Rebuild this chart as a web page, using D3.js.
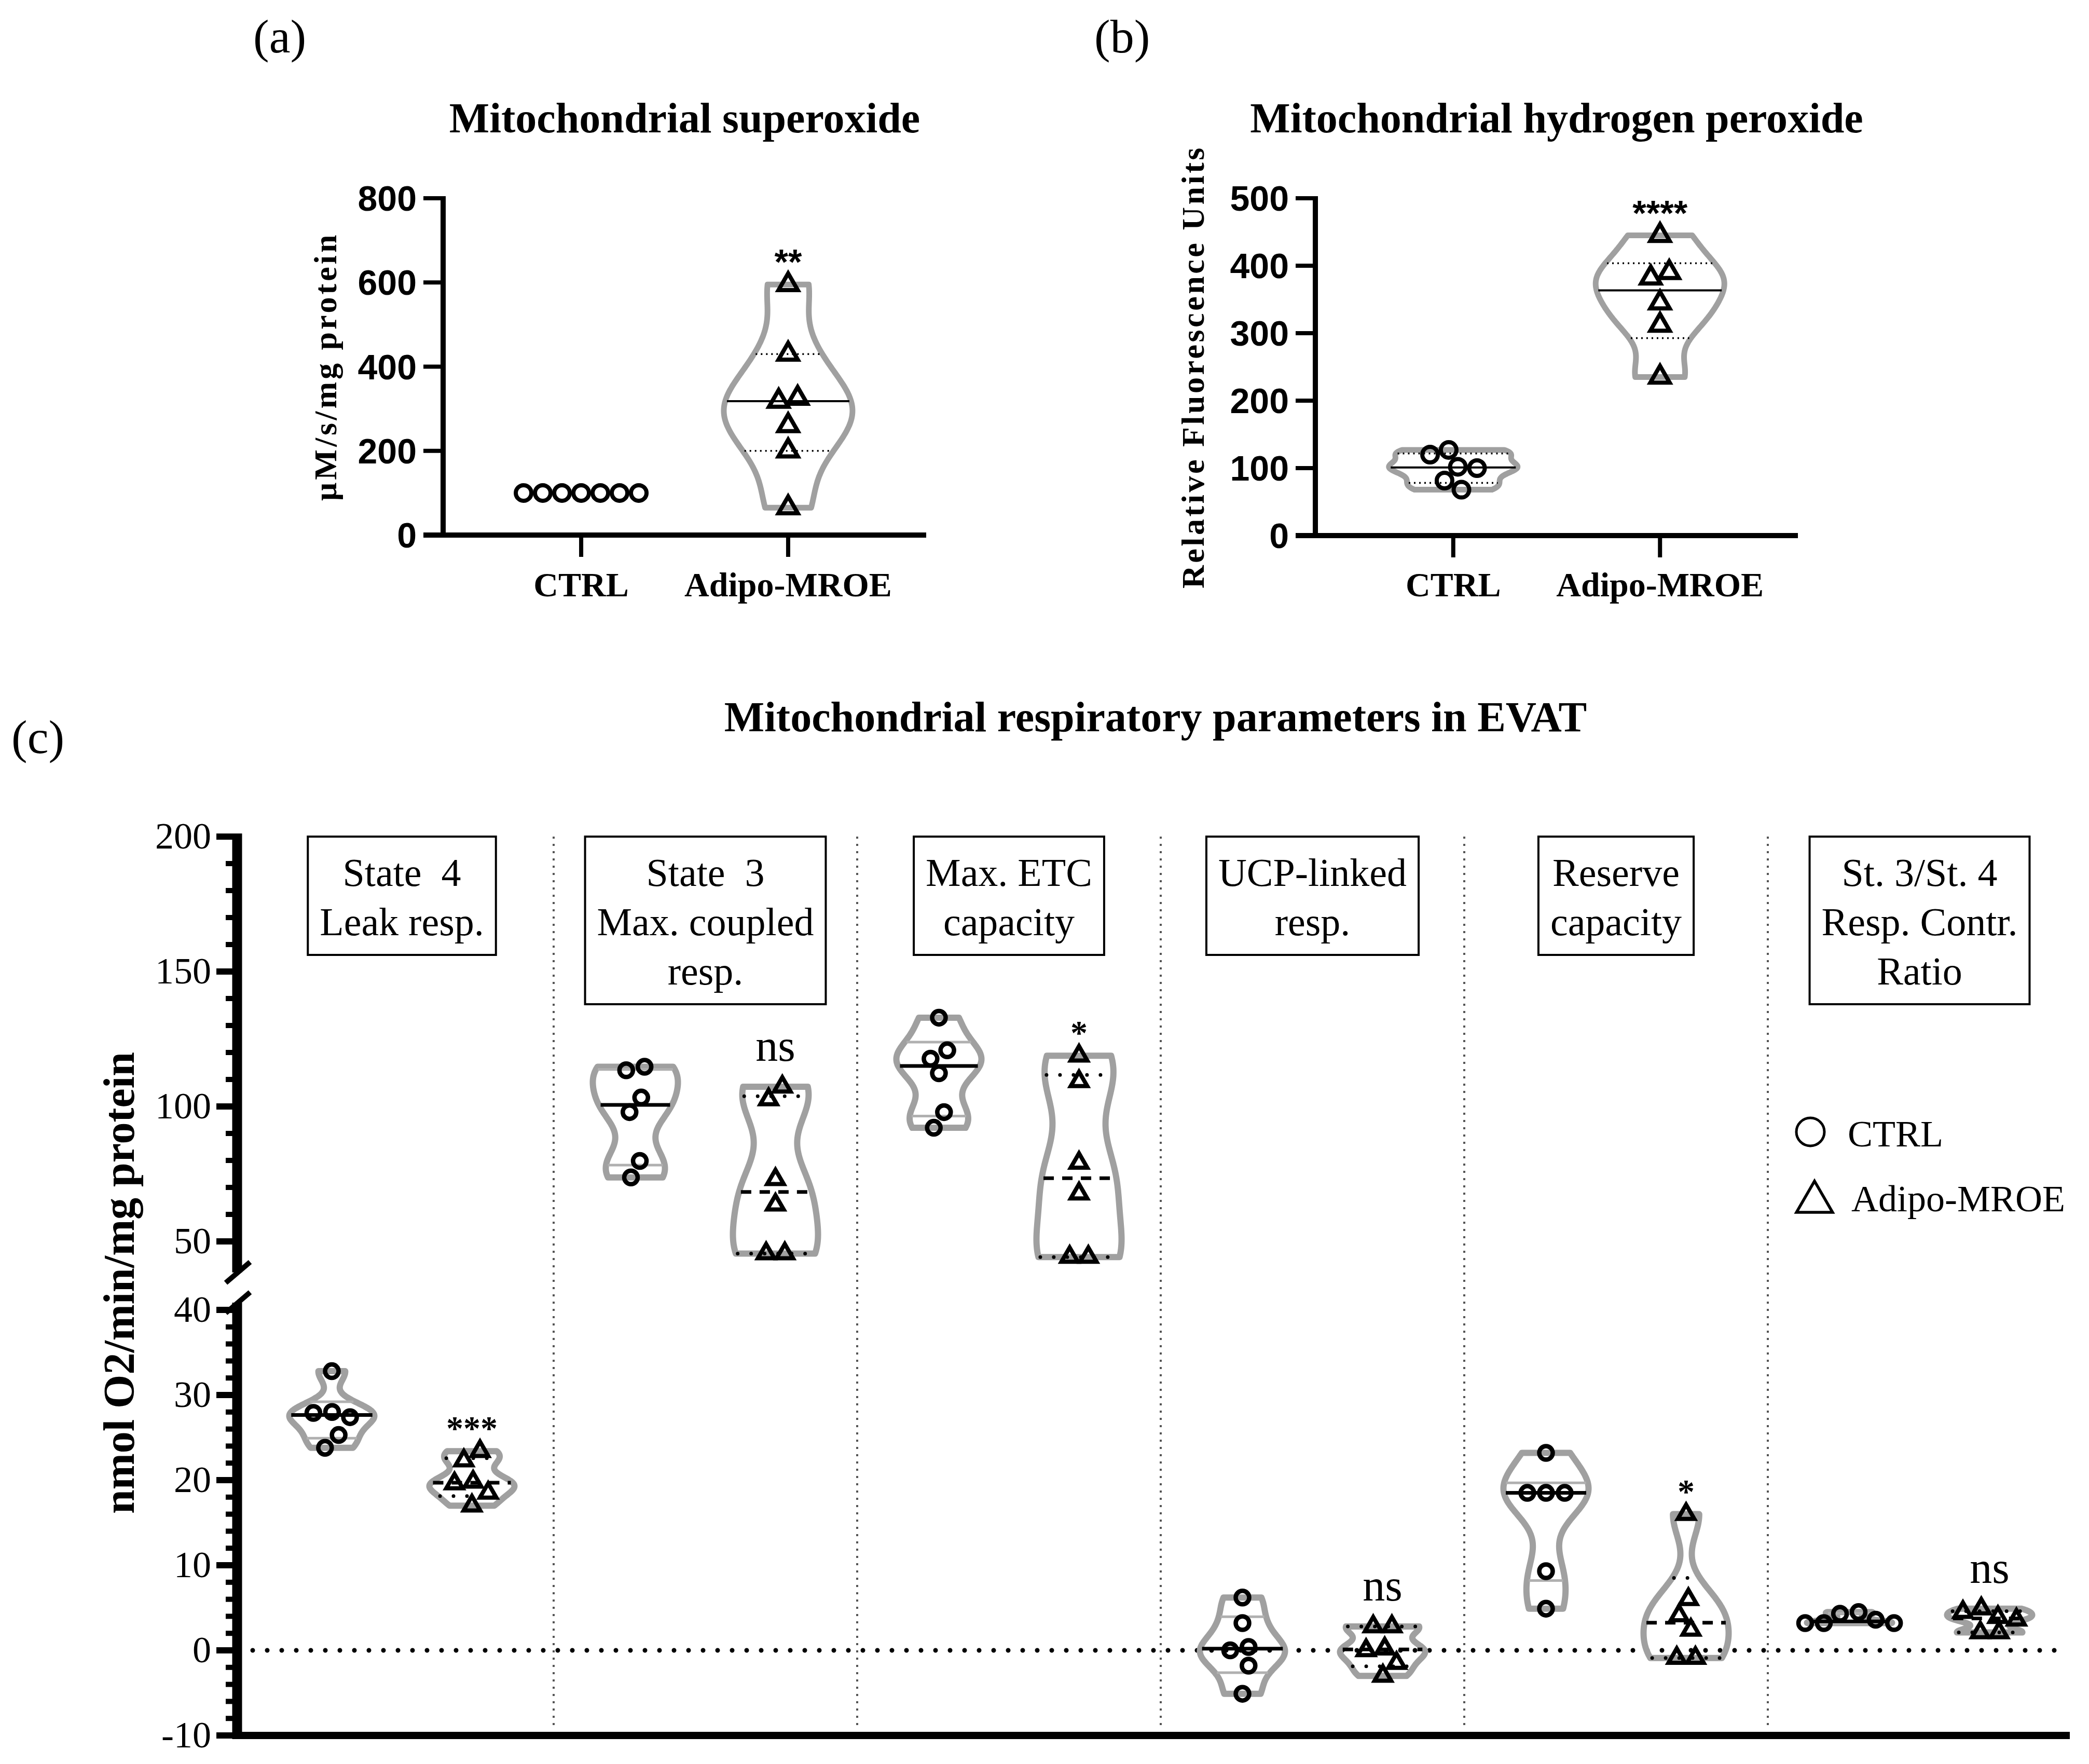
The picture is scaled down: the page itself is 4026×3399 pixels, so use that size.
<!DOCTYPE html>
<html><head><meta charset="utf-8">
<script src="https://cdn.jsdelivr.net/npm/d3@7"></script>
<style>body{margin:0;background:#fff} svg{display:block}</style>
</head><body>
<svg id="chart" width="4026" height="3399" xmlns="http://www.w3.org/2000/svg"></svg>
<script>
// ---------------- DATA ----------------
const groupsAB = ["CTRL", "Adipo-MROE"];
const superoxideCTRL = [100, 100, 100, 100, 100, 100, 100];
const superoxideMROE = [595, 430, 325, 318, 260, 200, 65];
const peroxideCTRL = [127, 120, 102, 100, 81.5, 68];
const peroxideMROE = [445, 390, 382, 345, 312, 235];
const ticksA = [0, 200, 400, 600, 800];
const ticksB = [0, 100, 200, 300, 400, 500];
const signifA = "**";
const signifB = "****";

const paramLabels = [
  ["State\u00A0 4", "Leak resp."],
  ["State\u00A0 3", "Max. coupled", "resp."],
  ["Max. ETC", "capacity"],
  ["UCP-linked", "resp."],
  ["Reserve", "capacity"],
  ["St. 3/St. 4", "Resp. Contr.", "Ratio"]
];
const ctrlValues = [
  [32.8, 28.0, 27.9, 27.4, 25.3, 23.8],
  [114.7, 113.4, 103.3, 97.9, 79.8, 73.7],
  [132.9, 120.8, 117.7, 112.3, 97.9, 92.1],
  [6.2, 3.2, 0.4, 0.0, -1.8, -5.1],
  [23.2, 18.5, 18.5, 18.5, 9.3, 4.9],
  [4.5, 4.3, 3.6, 3.2, 3.2, 3.2]
];
const mroeValues = [
  [23.4, 22.3, 19.8, 19.6, 18.5, 17.0],
  [107.3, 102.6, 73.0, 63.6, 45.5, 45.5],
  [118.8, 109.3, 79.1, 67.7, 44.2, 44.2],
  [2.8, 2.8, 0.2, 0.0, -1.5, -3.0],
  [16.0, 6.0, 4.1, 2.4, -0.9, -0.9],
  [4.9, 4.5, 3.9, 3.6, 2.1, 2.1]
];
const paramSegment = ["lower", "upper", "upper", "lower", "lower", "lower"];
const signifC = ["***", "ns", "*", "ns", "*", "ns"];
const upperMajor = [50, 100, 150, 200];
const lowerMajor = [-10, 0, 10, 20, 30, 40];
const legendLabels = ["CTRL", "Adipo-MROE"];

// ---------------- SETUP ----------------
const svg = d3.select("#chart");
const SERIF = "'Liberation Serif','Times New Roman',serif";
const SANS = "'Liberation Sans',Arial,sans-serif";
const VGRAY = "#a0a0a0";

function quantileP(vals, p) {
  const s = vals.slice().sort(d3.ascending), n = s.length;
  const pos = p * (n + 1);
  if (pos <= 1) return s[0];
  if (pos >= n) return s[n - 1];
  const lo = Math.floor(pos);
  return s[lo - 1] + (pos - lo) * (s[lo] - s[lo - 1]);
}
function kdeBandwidth(vals) {
  const sd = d3.deviation(vals) || 0;
  const iqr = quantileP(vals, 0.75) - quantileP(vals, 0.25);
  let s = Math.min(sd, iqr / 1.34);
  if (!(s > 0)) s = sd;
  return 0.63 * s * Math.pow(vals.length, -0.2);
}
function density(vals, h, v) {
  return d3.sum(vals, x => Math.exp(-0.5 * ((v - x) / h) ** 2));
}

function swarmOffsets(vals, yScale, d) {
  const pts = vals.map((v, i) => ({ v, i, y: yScale(v), x: 0 })).sort((a, b) => a.y - b.y);
  const placed = [];
  for (const p of pts) {
    const iv = [];
    for (const q of placed) {
      const dy = Math.abs(q.y - p.y);
      if (dy < d) { const w = Math.sqrt(d * d - dy * dy); iv.push([q.x - w, q.x + w]); }
    }
    const cands = [0];
    iv.forEach(a => cands.push(a[0], a[1]));
    cands.sort((a, b) => (Math.abs(a) - Math.abs(b)) || (a - b));
    p.x = cands.find(c => iv.every(a => c <= a[0] + 1e-6 || c >= a[1] - 1e-6));
    placed.push(p);
  }
  const parent = pts.map((_, k) => k);
  const find = k => parent[k] === k ? k : (parent[k] = find(parent[k]));
  for (let a = 0; a < pts.length; a++)
    for (let b = a + 1; b < pts.length; b++)
      if (Math.hypot(pts[a].x - pts[b].x, pts[a].y - pts[b].y) < d + 0.5) parent[find(a)] = find(b);
  const groups = d3.group(pts.map((p, k) => ({ p, r: find(k) })), o => o.r);
  for (const [, arr] of groups) { const m = d3.mean(arr, o => o.p.x); arr.forEach(o => o.p.x -= m); }
  const out = [];
  pts.forEach(p => out[p.i] = p.x);
  return out;
}

function drawViolin(g, vals, y, cx, o) {
  const lo = d3.min(vals), hi = d3.max(vals);
  if (hi - lo <= 0) return;
  const h = kdeBandwidth(vals);
  const steps = d3.range(0, 141).map(i => lo + (hi - lo) * i / 140);
  const dmax = d3.max(steps, v => density(vals, h, v));
  const w = v => o.halfW * density(vals, h, v) / dmax;
  const area = d3.area().y(d => y(d)).x0(d => cx - w(d)).x1(d => cx + w(d)).curve(d3.curveBasis);
  g.append("path").attr("d", area(steps)).attr("fill", "none")
    .attr("stroke", VGRAY).attr("stroke-width", o.vWidth).attr("stroke-linejoin", "round");
  const line = (v, st) => {
    const ww = w(v) - o.vWidth * 0.3;
    g.append("line").attr("x1", cx - ww).attr("x2", cx + ww).attr("y1", y(v)).attr("y2", y(v))
      .attr("stroke", st.color).attr("stroke-width", st.width)
      .attr("stroke-dasharray", st.dash || null).attr("stroke-linecap", st.cap || "butt");
  };
  line(quantileP(vals, 0.25), o.quart);
  line(quantileP(vals, 0.75), o.quart);
  line(quantileP(vals, 0.5), o.median);
}

function drawMarkers(g, vals, y, cx, type, r, triArea, sw, d) {
  const off = swarmOffsets(vals, y, d);
  vals.forEach((v, i) => {
    if (type === "circle") {
      g.append("circle").attr("cx", cx + off[i]).attr("cy", y(v)).attr("r", r)
        .attr("fill", "none").attr("stroke", "#000").attr("stroke-width", sw);
    } else {
      g.append("path").attr("d", d3.symbol(d3.symbolTriangle, triArea)())
        .attr("transform", `translate(${cx + off[i]},${y(v)})`)
        .attr("fill", "none").attr("stroke", "#000").attr("stroke-width", sw).attr("stroke-linejoin", "miter");
    }
  });
}

// ---------------- PANELS (a) & (b) ----------------
function smallPanel(cfg) {
  const g = svg.append("g");
  const x = d3.scalePoint().domain(groupsAB).range([cfg.x0, cfg.x1]).padding(0.667);
  const y = d3.scaleLinear().domain([0, cfg.ticks[cfg.ticks.length - 1]]).range([cfg.yBottom, cfg.yTop]);
  g.append("text").attr("x", cfg.letterX).attr("y", 101).attr("font-family", SERIF).attr("font-size", 92).text(cfg.letter);
  g.append("text").attr("x", (cfg.x0 + cfg.x1) / 2).attr("y", 255).attr("text-anchor", "middle")
    .attr("font-family", SERIF).attr("font-weight", "bold").attr("font-size", 82).text(cfg.title);
  g.append("text").attr("transform", `translate(${cfg.yTitleX},${(cfg.yTop + cfg.yBottom) / 2})rotate(-90)`)
    .attr("text-anchor", "middle").attr("font-family", SERIF).attr("font-weight", "bold")
    .attr("font-size", 62).attr("letter-spacing", cfg.ls).text(cfg.yTitle);
  g.append("line").attr("x1", cfg.x0).attr("x2", cfg.x0).attr("y1", y.range()[1] - 4).attr("y2", y(0) + 5)
    .attr("stroke", "#000").attr("stroke-width", 10);
  g.append("line").attr("x1", cfg.x0 - 38).attr("x2", cfg.x1).attr("y1", y(0)).attr("y2", y(0))
    .attr("stroke", "#000").attr("stroke-width", 10);
  g.selectAll(null).data(cfg.ticks).join("line")
    .attr("x1", cfg.x0 - 38).attr("x2", cfg.x0).attr("y1", d => y(d)).attr("y2", d => y(d))
    .attr("stroke", "#000").attr("stroke-width", 8);
  g.selectAll(null).data(cfg.ticks).join("text")
    .attr("x", cfg.x0 - 51).attr("y", d => y(d) + 24).attr("text-anchor", "end")
    .attr("font-family", SANS).attr("font-weight", "bold").attr("font-size", 68).text(d => d);
  g.selectAll(null).data(groupsAB).join("line")
    .attr("x1", d => x(d)).attr("x2", d => x(d)).attr("y1", y(0)).attr("y2", y(0) + 42)
    .attr("stroke", "#000").attr("stroke-width", 8);
  g.selectAll(null).data(groupsAB).join("text")
    .attr("x", d => x(d)).attr("y", 1149).attr("text-anchor", "middle")
    .attr("font-family", SERIF).attr("font-weight", "bold").attr("font-size", 66).text(d => d);
  const vopts = {
    halfW: 124, vWidth: 11,
    median: { color: "#000", width: 4 },
    quart: { color: "#000", width: 3.5, dash: "3 7" }
  };
  drawViolin(g, cfg.ctrl, y, x(groupsAB[0]), vopts);
  drawViolin(g, cfg.mroe, y, x(groupsAB[1]), vopts);
  drawMarkers(g, cfg.ctrl, y, x(groupsAB[0]), "circle", 15, 0, 8, 37);
  drawMarkers(g, cfg.mroe, y, x(groupsAB[1]), "triangle", 15, 600, 8, 37);
  g.append("text").attr("x", x(groupsAB[1])).attr("y", y(d3.max(cfg.mroe)) - 20)
    .attr("text-anchor", "middle").attr("font-family", SANS).attr("font-weight", "bold")
    .attr("font-size", 68).text(cfg.signif);
}

smallPanel({
  letter: "(a)", letterX: 488, title: "Mitochondrial superoxide",
  x0: 854, x1: 1785, yTop: 382, yBottom: 1031, ticks: ticksA,
  yTitle: "\u00B5M/s/mg protein", yTitleX: 648, ls: 5,
  ctrl: superoxideCTRL, mroe: superoxideMROE, signif: signifA
});
smallPanel({
  letter: "(b)", letterX: 2109, title: "Mitochondrial hydrogen peroxide",
  x0: 2535, x1: 3465, yTop: 382, yBottom: 1032, ticks: ticksB,
  yTitle: "Relative Fluorescence Units", yTitleX: 2320, ls: 4.5,
  ctrl: peroxideCTRL, mroe: peroxideMROE, signif: signifB
});

// ---------------- PANEL (c) ----------------
const gc = svg.append("g");
const xC = d3.scaleBand().domain(d3.range(6)).range([482, 3992]);
const sub = d3.scalePoint().domain(["CTRL", "MROE"]).range([-135, 135]);
const yUpper = d3.scaleLinear().domain([100, 200]).range([2132, 1612]);
const yLower = d3.scaleLinear().domain([-10, 40]).range([3344, 2524]);
const AX = 457;
const center = i => xC(i) + xC.bandwidth() / 2;

gc.append("text").attr("x", 22).attr("y", 1451).attr("font-family", SERIF).attr("font-size", 92).text("(c)");
gc.append("text").attr("x", 2227).attr("y", 1409).attr("text-anchor", "middle")
  .attr("font-family", SERIF).attr("font-weight", "bold").attr("font-size", 82)
  .text("Mitochondrial respiratory parameters in EVAT");
gc.append("text").attr("transform", `translate(258,2472)rotate(-90)`).attr("text-anchor", "middle")
  .attr("font-family", SERIF).attr("font-weight", "bold").attr("font-size", 84)
  .text("nmol O2/min/mg protein");

gc.selectAll(null).data(d3.range(1, 6)).join("line")
  .attr("x1", d => xC(d)).attr("x2", d => xC(d)).attr("y1", 1612).attr("y2", 3330)
  .attr("stroke", "#555").attr("stroke-width", 4).attr("stroke-dasharray", "4 10");
gc.append("line").attr("x1", 487).attr("x2", 3963).attr("y1", yLower(0)).attr("y2", yLower(0))
  .attr("stroke", "#000").attr("stroke-width", 9).attr("stroke-dasharray", "0 28").attr("stroke-linecap", "round");

const upperBottom = 38.5, lowerTop = 40.85;
gc.append("line").attr("x1", AX).attr("x2", AX).attr("y1", yUpper(200) - 6).attr("y2", yUpper(upperBottom))
  .attr("stroke", "#000").attr("stroke-width", 19);
gc.append("line").attr("x1", AX).attr("x2", AX).attr("y1", yLower(lowerTop)).attr("y2", yLower(-10) + 7)
  .attr("stroke", "#000").attr("stroke-width", 19);
[yUpper(upperBottom), yLower(lowerTop)].forEach(yy => {
  gc.append("line").attr("x1", AX - 22).attr("x2", AX + 25).attr("y1", yy + 20).attr("y2", yy - 20)
    .attr("stroke", "#000").attr("stroke-width", 10);
});
gc.append("line").attr("x1", AX).attr("x2", 3989).attr("y1", yLower(-10)).attr("y2", yLower(-10))
  .attr("stroke", "#000").attr("stroke-width", 14);
const upperMinor = d3.range(60, 200, 10).filter(v => !upperMajor.includes(v));
const lowerMinor = d3.range(-8, 40, 2).filter(v => v % 10 !== 0);
function ticks(vals, scale, len, w) {
  gc.selectAll(null).data(vals).join("line")
    .attr("x1", AX - len).attr("x2", AX).attr("y1", d => scale(d)).attr("y2", d => scale(d))
    .attr("stroke", "#000").attr("stroke-width", w);
}
ticks(upperMajor, yUpper, 40, 12);
ticks(lowerMajor, yLower, 40, 12);
ticks(upperMinor, yUpper, 22, 10);
ticks(lowerMinor, yLower, 22, 10);
function tickLabels(vals, scale) {
  gc.selectAll(null).data(vals).join("text")
    .attr("x", AX - 50).attr("y", d => scale(d) + 23).attr("text-anchor", "end")
    .attr("font-family", SERIF).attr("font-size", 72).text(d => d);
}
tickLabels(upperMajor, yUpper);
tickLabels(lowerMajor, yLower);

paramLabels.forEach((lines, i) => {
  const gb = gc.append("g");
  const texts = lines.map((t, k) => gb.append("text").attr("x", center(i)).attr("y", 1707 + 95 * k)
    .attr("text-anchor", "middle").attr("font-family", SERIF).attr("font-size", 76).text(t));
  const wmax = d3.max(texts, t => t.node().getComputedTextLength());
  const bw = wmax + 46;
  gb.insert("rect", "text").attr("x", center(i) - bw / 2).attr("y", 1612).attr("width", bw)
    .attr("height", 95 * lines.length + 38).attr("fill", "#fff")
    .attr("stroke", "#000").attr("stroke-width", 4);
});

const ctrlOpts = {
  halfW: 82, vWidth: 12,
  median: { color: "#000", width: 7 },
  quart: { color: "#b0b0b0", width: 5 }
};
const mroeOpts = {
  halfW: 82, vWidth: 12,
  median: { color: "#000", width: 7, dash: "20 16" },
  quart: { color: "#000", width: 7, dash: "0 26", cap: "round" }
};
d3.range(6).forEach(i => {
  const y = paramSegment[i] === "upper" ? yUpper : yLower;
  const cxC = center(i) + sub("CTRL"), cxM = center(i) + sub("MROE");
  drawViolin(gc, ctrlValues[i], y, cxC, ctrlOpts);
  drawViolin(gc, mroeValues[i], y, cxM, mroeOpts);
  drawMarkers(gc, ctrlValues[i], y, cxC, "circle", 13, 0, 8.5, 36);
  drawMarkers(gc, mroeValues[i], y, cxM, "triangle", 13, 440, 8, 36);
  const top = y(d3.max(mroeValues[i]));
  const lab = signifC[i];
  gc.append("text").attr("x", cxM).attr("y", lab === "ns" ? top - 50 : top - 22)
    .attr("text-anchor", "middle").attr("font-family", SERIF)
    .attr("font-weight", lab === "ns" ? "normal" : "bold")
    .attr("font-size", lab === "ns" ? 86 : 66).text(lab);
});

const lg = gc.append("g");
lg.append("circle").attr("cx", 3489).attr("cy", 2181).attr("r", 27).attr("fill", "none")
  .attr("stroke", "#000").attr("stroke-width", 5);
lg.append("path").attr("d", d3.symbol(d3.symbolTriangle, 2100)()).attr("transform", "translate(3497,2316)")
  .attr("fill", "none").attr("stroke", "#000").attr("stroke-width", 5.5);
lg.selectAll(null).data(legendLabels).join("text")
  .attr("x", (d, k) => k === 0 ? 3561 : 3568).attr("y", (d, k) => k === 0 ? 2209 : 2334)
  .attr("font-family", SERIF).attr("font-size", 72).text(d => d);
</script>
</body></html>
